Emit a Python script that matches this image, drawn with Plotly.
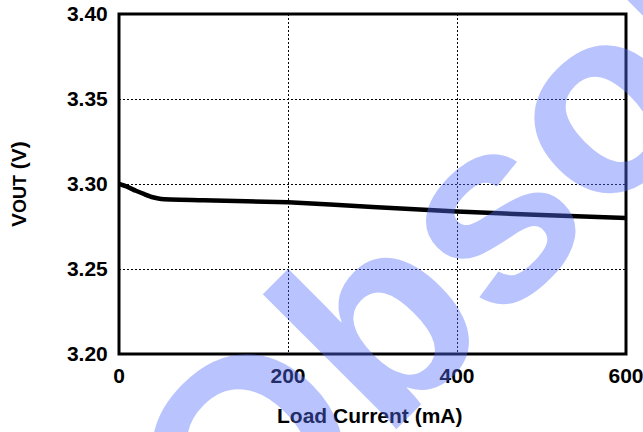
import plotly.graph_objects as go

# Output voltage vs. load current
load_ma = [0, 10, 20, 30, 40, 50, 100, 200, 300, 400, 500, 600]
vout_v = [3.300, 3.2983, 3.2960, 3.2940, 3.2922, 3.2912, 3.2905, 3.2892, 3.2865, 3.2838, 3.2818, 3.2800]

x_ticks = [0, 200, 400, 600]
y_ticks = [3.20, 3.25, 3.30, 3.35, 3.40]

FONT = "Liberation Sans, Arial, Helvetica, sans-serif"

fig = go.Figure()
fig.add_trace(go.Scatter(
    x=load_ma, y=vout_v, mode="lines",
    line=dict(color="black", width=4.5, shape="spline", smoothing=0.6),
    showlegend=False, hoverinfo="skip",
))

# Tick marks are kept but made transparent so they only space the labels
axis_common = dict(
    showline=False, showgrid=True, gridcolor="black", gridwidth=1,
    griddash="2px,2px", zeroline=False, automargin=False,
    ticks="outside", tickcolor="rgba(0,0,0,0)",
    ticklabeloverflow="allow",
    tickfont=dict(family=FONT, size=21, color="black", weight="bold"),
)

fig.update_xaxes(range=[0, 600], tickvals=x_ticks,
                 ticktext=[str(v) for v in x_ticks],
                 ticklen=3, **axis_common)
fig.update_yaxes(range=[3.20, 3.40], tickvals=y_ticks,
                 ticktext=[f"{v:.2f}" for v in y_ticks],
                 ticklen=6, **axis_common)

# Plot frame
fig.add_shape(type="rect", xref="paper", yref="paper", x0=0, y0=0, x1=1, y1=1,
              line=dict(color="black", width=3), layer="above")

# Axis titles
fig.add_annotation(
    text="<b>Load Current (mA)</b>", xref="paper", yref="paper",
    x=0.495, y=-0.182, xanchor="center", yanchor="middle", showarrow=False,
    font=dict(family=FONT, size=21, color="black"),
)
fig.add_annotation(
    text="<b>V<span style='font-size:18px'>OUT</span> (V)</b>",
    xref="paper", yref="paper", x=-0.199, y=0.5,
    xanchor="center", yanchor="middle", textangle=-90, showarrow=False,
    font=dict(family=FONT, size=21, color="black"),
)

# Diagonal status stamp across the chart
fig.add_annotation(
    text="<b>Obsolete</b>", xref="paper", yref="paper",
    x=0.8935, y=0.672, xanchor="center", yanchor="middle",
    textangle=-45, showarrow=False,
    font=dict(family=FONT, size=262, color="rgba(85,110,251,0.41)"),
)

fig.update_layout(
    width=643, height=432,
    margin=dict(l=119, r=17, t=14, b=78),
    paper_bgcolor="white", plot_bgcolor="white",
)

fig.write_html("out.html")
